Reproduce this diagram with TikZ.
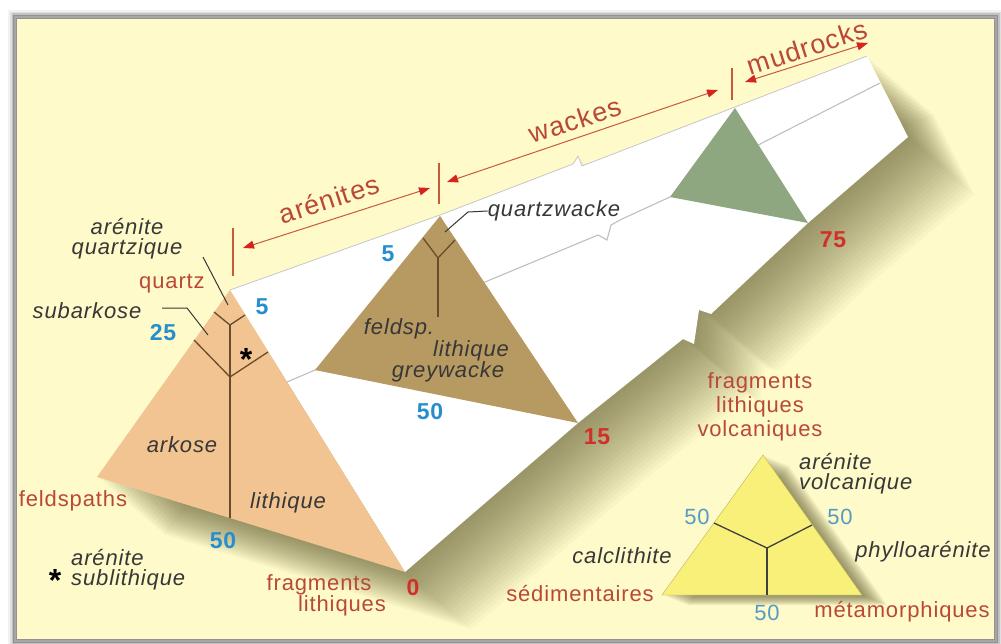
\documentclass[tikz,border=0pt]{standalone}
\usepackage{fontspec}
\setmainfont{Liberation Sans}[LetterSpace=4]
\usetikzlibrary{arrows.meta}
\definecolor{bgc}{RGB}{254,250,202}
\definecolor{orangec}{RGB}{241,196,145}
\definecolor{brownc}{RGB}{183,153,98}
\definecolor{greenc}{RGB}{143,167,128}
\definecolor{yelc}{RGB}{248,240,120}
\definecolor{redt}{RGB}{186,72,56}
\definecolor{redn}{RGB}{208,48,40}
\definecolor{redarr}{RGB}{215,35,30}
\definecolor{redline}{RGB}{200,90,60}
\definecolor{bluen}{RGB}{38,142,205}
\definecolor{bluel}{RGB}{85,155,195}
\definecolor{darkt}{RGB}{55,55,55}
\definecolor{brl}{RGB}{105,75,45}
\definecolor{shadowc}{RGB}{85,80,35}
\def\prismpath{(97,477) -- (230,290) -- (440,215) -- (573,164) -- (578,156) -- (582,166) -- (735,107) -- (867,56) -- (908,137) -- (808,223) -- (711,314) -- (699,310) -- (694,344) -- (683,339) -- (578,423) -- (405,572) -- cycle}
\begin{document}
\begin{tikzpicture}[x=1pt,y=-1pt,
  every node/.style={inner sep=0pt},
  lab/.style={text=darkt, font=\fontsize{22}{20}\selectfont\itshape, align=center},
  rlab/.style={text=redt, font=\fontsize{22}{24}\selectfont, align=center},
  bnum/.style={text=bluen, font=\fontsize{23}{23}\selectfont\bfseries},
  rnum/.style={text=redn, font=\fontsize{23}{23}\selectfont\bfseries},
  lnum/.style={text=bluel, font=\fontsize{22}{22}\selectfont},
  asterisk/.style={text=black, font=\fontsize{32}{32}\selectfont\bfseries},
  innerline/.style={draw=brl, line width=1.3pt},
  leader/.style={draw=darkt, line width=1pt},
  ghost/.style={draw=gray!50, line width=1.1pt},
  tickmark/.style={draw=redline, line width=1.3pt},
  dimarrow/.style={draw=redline, line width=1pt,
     {Triangle[length=11pt,width=8pt,color=redarr]}-{Triangle[length=11pt,width=8pt,color=redarr]}},
  arrlab/.style={text=redt, font=\fontsize{27}{27}\selectfont, rotate=18},
]
\useasboundingbox (0,0) rectangle (1001,644);
\fill[white] (0,0) rectangle (1001,644);
% frame
\foreach \w/\o in {14/0.05, 10/0.08, 7/0.12, 4/0.25} {
  \draw[black, opacity=\o, line width=\w pt] (15,17) rectangle (996,641);
}
\draw[gray!70, line width=2.5pt] (15,17) rectangle (996,641);
\fill[bgc] (17,19) rectangle (994,639);

% prism shadow
\foreach \i in {1,...,22} {
  \fill[shadowc, opacity=0.036, shift={(\i*3,\i*2.6)}] \prismpath;
}
% white prism face
\fill[white] (230,290) -- (440,215) -- (573,164) -- (578,156) -- (582,166) -- (735,107) -- (867,56) -- (908,137) -- (808,223) -- (711,314) -- (699,310) -- (694,344) -- (683,339) -- (578,423) -- (405,572) -- cycle;
\draw[gray!45, line width=0.8pt] (230,290) -- (440,215) -- (573,164) -- (578,156) -- (582,166) -- (735,107) -- (867,56);

% hidden edge of the prism
\draw[ghost] (287,382) -- (315,370) -- (485,282) -- (598,235) -- (607,240) -- (611,225) -- (622,219) -- (670,197) -- (762,143) -- (880,83);

% cross sections
\fill[orangec] (97,477) -- (230,290) -- (405,572) -- cycle;
\fill[brownc] (440,216) -- (315,370) -- (578,423) -- cycle;
\fill[greenc] (735,108) -- (670,197) -- (808,223) -- cycle;

% internal lines, orange triangle
\draw[innerline] (214,312) -- (230,325) -- (245,315);
\draw[innerline] (194,340) -- (230,377) -- (268,352);
\draw[innerline] (230,325) -- (230,518);
% internal lines, brown triangle
\draw[innerline] (423,238) -- (438,258) -- (455,240);
\draw[innerline] (438,258) -- (438,317);

% dimension ticks and arrows
\draw[tickmark] (233,228) -- (233,276);
\draw[tickmark] (439,163) -- (439,204);
\draw[tickmark] (732,68) -- (732,100);
\coordinate (a1) at (243,248); \coordinate (a2) at (430,188);
\coordinate (w1) at (447,182); \coordinate (w2) at (718,90);
\coordinate (m1) at (745,82);  \coordinate (m2) at (868,43);
\draw[dimarrow] (a1) -- (a2);
\draw[dimarrow] (w1) -- (w2);
\draw[dimarrow] (m1) -- (m2);
\node[arrlab] (tar) at (329,199) {arénites};
\node[arrlab] (twa) at (575,120) {wackes};
\node[arrlab] (tmu) at (807,47) {mudrocks};

% labels, left triangle
\node[lab] (aq) at (127,239) {arénite\\quartzique};
\node[rlab] (qz) at (172,284) {quartz};
\node[lab] (sa) at (87,311) {subarkose};
\node[bnum] (n5a) at (262,307) {5};
\node[bnum] (n25) at (163,333) {25};
\node[asterisk] (st1) at (246,359) {*};
\node[lab] (ak) at (182,445) {arkose};
\node[lab] (li) at (288,503) {lithique};
\node[rlab] (fd) at (73,501) {feldspaths};
\node[bnum] (n50a) at (223,541) {50};
\node[asterisk] (st2) at (55,580) {*};
\node[lab, anchor=west, align=left] (as) at (71,570) {arénite\\sublithique};
\node[rlab] (fr1) at (319,585) {fragments};
\node[rlab] (fr2) at (342,606) {lithiques};
\node[rnum] (n0) at (413,588) {0};
\coordinate (aqend) at (228,305);
\draw[leader] (203,257) -- (aqend);
\draw[leader] (162,308) -- (187,308) -- (208,335);

% labels, brown triangle
\node[bnum] (n5b) at (388,254) {5};
\node[lab] (qw) at (554,211) {quartzwacke};
\draw[leader] (qw.west) -- (468,212) -- (445,232);
\node[lab] (fsp) at (399,329) {feldsp.};
\node[lab] (lg1) at (471,351) {lithique};
\node[lab] (lg2) at (448,372) {greywacke};
\node[bnum] (n50b) at (430,412) {50};
\node[rnum] (n15) at (597,437) {15};
\node[rnum] (n75) at (833,240) {75};

% small yellow triangle
\foreach \i in {1,...,10} {
  \fill[shadowc, opacity=0.08, shift={(\i*2.5,\i*1)}] (763,455) -- (662,595) -- (862,595) -- cycle;
}
\fill[yelc] (763,455) -- (662,595) -- (862,595) -- cycle;
\draw[yelc!75!black, line width=0.4pt] (763,455) -- (662,595) -- (862,595) -- cycle;
\draw[innerline, draw=black!75] (714,523) -- (767,548) -- (812,525);
\draw[innerline, draw=black!75] (767,548) -- (767,595);
\node[rlab] (fv1) at (760,383) {fragments};
\node[rlab] (fv2) at (760,407) {lithiques};
\node[rlab] (fv3) at (760,431) {volcaniques};
\node[lab, anchor=west, align=left] (av) at (799,474) {arénite\\volcanique};
\node[lnum] (n50c) at (697,517) {50};
\node[lnum] (n50d) at (840,517) {50};
\node[lnum] (n50e) at (767,613) {50};
\node[lab] (cl) at (622,556) {calclithite};
\node[lab] (ph) at (923,552) {phylloarénite};
\node[rlab] (sd) at (580,594) {sédimentaires};
\node[rlab] (mt) at (902,612) {métamorphiques};
\end{tikzpicture}
\end{document}
